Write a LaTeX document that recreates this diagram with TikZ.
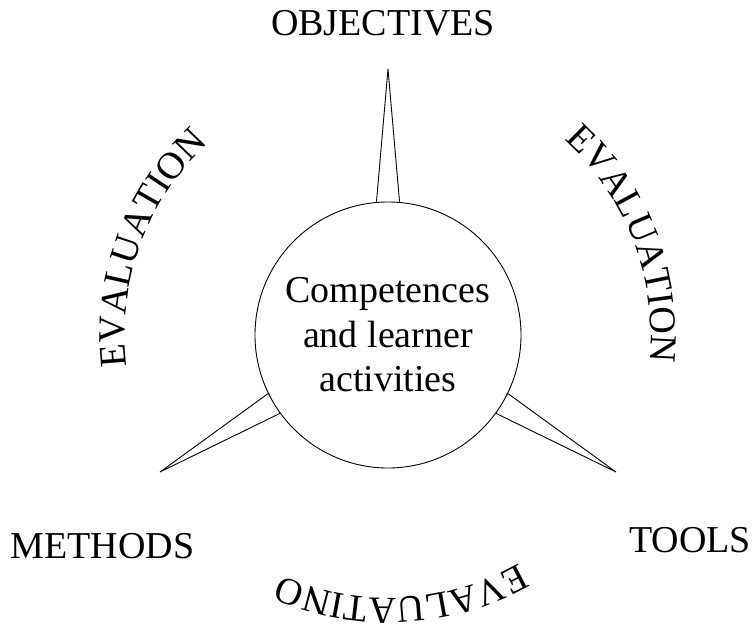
\documentclass[tikz,border=0pt]{standalone}
\usepackage{fontspec}
\setmainfont{Liberation Serif}
\usetikzlibrary{decorations.text,calc}
\begin{document}
\begin{tikzpicture}[x=1pt,y=1pt,
  lbl/.style={font=\fontsize{38}{44.5}\selectfont, inner sep=0pt},
  spike/.style={draw=black, line width=0.9pt, fill=white, line join=miter},
  hub/.style={circle, draw=black, line width=0.9pt, fill=white, minimum size=266pt, inner sep=0pt, align=center, font=\fontsize{38}{44.5}\selectfont},
  arctext/.style={decorate, decoration={text along path, text align=center, text={|\fontsize{38}{44}\selectfont|#1}}}]
\useasboundingbox (0,0) rectangle (755,627);
\coordinate (c) at (388,292);
\foreach \a/\n in {90/top,211/left,329/right}{
  \coordinate (\n tip) at ($(c)+(\a:266)$);
  \coordinate (\n b1) at ($(c)+(\a+5:133)$);
  \coordinate (\n b2) at ($(c)+(\a-5:133)$);
  \draw[spike] (\n b1) -- (\n tip) -- (\n b2) -- cycle;
}
\node[hub] (hub) at (c) {Competences\\and learner\\activities};
\node[lbl] (obj) at (383,603.5) {OBJECTIVES};
\node[lbl] (meth) at (102.5,80.5) {METHODS};
\node[lbl] (tools) at (690,87) {TOOLS};
\path[arctext=EVALUATION] ($(c)+(200:263)$) arc[start angle=200, end angle=120, radius=263];
\path[arctext=EVALUATION] ($(c)+(61:263)$) arc[start angle=61, end angle=-19, radius=263];
\path[arctext=EVALUATINO] ($(c)+(-47:263)$) arc[start angle=-47, end angle=-127, radius=263];
\end{tikzpicture}
\end{document}
